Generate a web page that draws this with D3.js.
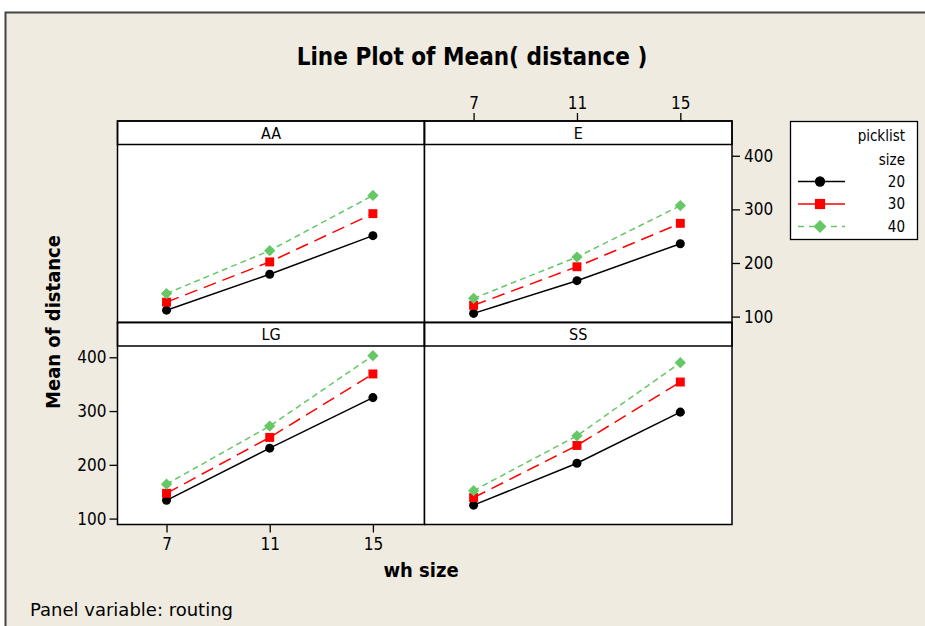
<!DOCTYPE html>
<html>
<head>
<meta charset="utf-8">
<script src="https://cdn.jsdelivr.net/npm/d3@7"></script>
<style>
  html, body { margin: 0; padding: 0; background: #ffffff; overflow: hidden; }
  svg { display: block; }
  text { font-family: "DejaVu Sans Condensed", "DejaVu Sans", sans-serif; fill: #000; }
</style>
</head>
<body>
<div id="chart"></div>
<script>
// categories
const routings = ['AA', 'E', 'LG', 'SS']
const whSizes = [7, 11, 15]
const picklistSizes = [20, 30, 40]
const yTicks = [100, 200, 300, 400]

// mean distance per routing, one value per wh size (7, 11, 15)
const AA_20 = [112, 179, 251]
const AA_30 = [127, 202, 292]
const AA_40 = [143, 223, 326]
const E_20 = [106, 167, 236]
const E_30 = [121, 193, 274]
const E_40 = [134, 211, 307]
const LG_20 = [134, 231, 325]
const LG_30 = [147, 251, 369]
const LG_40 = [164, 272, 403]
const SS_20 = [125, 203, 298]
const SS_30 = [139, 236, 354]
const SS_40 = [152, 254, 390]

const table = {
  AA: [AA_20, AA_30, AA_40],
  E: [E_20, E_30, E_40],
  LG: [LG_20, LG_30, LG_40],
  SS: [SS_20, SS_30, SS_40]
}

const W = 925, H = 626
const bg = '#efebe1'

// diamond = square turned 45 degrees
const styles = [
  { color: '#000000', dash: null, shape: d3.symbolCircle, size: 64, rot: 0 },
  { color: '#ff0000', dash: '13,7', shape: d3.symbolSquare, size: 80, rot: 0 },
  { color: '#66c766', dash: '6,4', shape: d3.symbolSquare, size: 64, rot: 45 }
]

const svg = d3.select('#chart').append('svg')
  .attr('width', W)
  .attr('height', H)

// beige page with dark frame line on top/left
svg.append('rect')
  .attr('x', 5).attr('y', 12)
  .attr('width', W - 5).attr('height', H - 12)
  .attr('fill', bg)
svg.append('path')
  .attr('d', `M5.5,${H} V12.5 H${W}`)
  .attr('fill', 'none')
  .attr('stroke', '#444')
  .attr('stroke-width', 2)

svg.append('text')
  .attr('x', 472).attr('y', 65)
  .attr('text-anchor', 'middle')
  .style('font-size', '24px')
  .style('font-weight', 'bold')
  .text('Line Plot of Mean( distance )')

// panel geometry
const colX = [117.5, 424.5, 732]
const rowY = [121, 322.5, 524.5]
const stripH = 23.5

const y0 = 89, y1 = 421

function panelBox(i) {
  const c = i % 2, r = Math.floor(i / 2)
  return {
    left: colX[c], right: colX[c + 1],
    top: rowY[r], bottom: rowY[r + 1],
    plotTop: rowY[r] + stripH
  }
}

routings.forEach((name, i) => {
  const b = panelBox(i)
  const x = d3.scaleLinear().domain([5.1, 17]).range([b.left, b.right])
  const y = d3.scaleLinear().domain([y0, y1]).range([b.bottom, b.plotTop])
  const g = svg.append('g')

  g.append('rect')
    .attr('x', b.left).attr('y', b.top)
    .attr('width', b.right - b.left).attr('height', b.bottom - b.top)
    .attr('fill', '#fff')

  // strip
  g.append('rect')
    .attr('x', b.left).attr('y', b.top)
    .attr('width', b.right - b.left).attr('height', stripH)
    .attr('fill', '#fff')
    .attr('stroke', '#000')
    .attr('stroke-width', 1.5)
  g.append('text')
    .attr('x', (b.left + b.right) / 2)
    .attr('y', b.top + stripH / 2)
    .attr('dy', '0.36em')
    .attr('text-anchor', 'middle')
    .style('font-size', '16px')
    .text(name)

  const line = d3.line()
    .x((d, k) => x(whSizes[k]))
    .y(d => y(d))

  table[name].forEach((vals, s) => {
    const st = styles[s]
    g.append('path')
      .datum(vals)
      .attr('d', line)
      .attr('fill', 'none')
      .attr('stroke', st.color)
      .attr('stroke-width', 1.5)
      .attr('stroke-dasharray', st.dash)
  })
  table[name].forEach((vals, s) => {
    const st = styles[s]
    g.selectAll(null)
      .data(vals)
      .join('path')
      .attr('transform', (d, k) => `translate(${x(whSizes[k])},${y(d)}) rotate(${st.rot})`)
      .attr('d', d3.symbol(st.shape, st.size))
      .attr('fill', st.color)
  })

  g.append('rect')
    .attr('x', b.left).attr('y', b.top)
    .attr('width', b.right - b.left).attr('height', b.bottom - b.top)
    .attr('fill', 'none')
    .attr('stroke', '#000')
    .attr('stroke-width', 1.5)

  const styleAxis = ax => {
    ax.select('.domain').remove()
    ax.selectAll('line').attr('stroke', '#000').attr('stroke-width', 1.3)
    ax.selectAll('text').style('font-size', '17px').attr('fill', '#000')
  }

  if (name === 'LG') {
    svg.append('g')
      .attr('transform', `translate(${b.left},0)`)
      .call(d3.axisLeft(y).tickValues(yTicks).tickSize(8).tickPadding(3))
      .call(styleAxis)
    svg.append('g')
      .attr('transform', `translate(0,${b.bottom})`)
      .call(d3.axisBottom(x).tickValues(whSizes).tickSize(8).tickPadding(5))
      .call(styleAxis)
  }
  if (name === 'E') {
    svg.append('g')
      .attr('transform', `translate(${b.right},0)`)
      .call(d3.axisRight(y).tickValues(yTicks).tickSize(8).tickPadding(4))
      .call(styleAxis)
    svg.append('g')
      .attr('transform', `translate(0,${b.top})`)
      .call(d3.axisTop(x).tickValues(whSizes).tickSize(8).tickPadding(4))
      .call(styleAxis)
  }
})

// axis titles
svg.append('text')
  .attr('transform', 'translate(60,322) rotate(-90)')
  .attr('text-anchor', 'middle')
  .style('font-size', '20px')
  .style('font-weight', 'bold')
  .text('Mean of distance')

svg.append('text')
  .attr('x', 421).attr('y', 577)
  .attr('text-anchor', 'middle')
  .style('font-size', '20px')
  .style('font-weight', 'bold')
  .text('wh size')

svg.append('text')
  .attr('x', 30).attr('y', 616)
  .style('font-family', '"DejaVu Sans", sans-serif')
  .style('font-size', '18px')
  .text('Panel variable: routing')

// legend
const lg = svg.append('g')
lg.append('rect')
  .attr('x', 790.5).attr('y', 121.5)
  .attr('width', 127).attr('height', 118)
  .attr('fill', '#fff')
  .attr('stroke', '#000')
  .attr('stroke-width', 1.3)
lg.append('text')
  .attr('x', 905).attr('y', 141)
  .attr('text-anchor', 'end')
  .style('font-size', '15px')
  .text('picklist')
lg.append('text')
  .attr('x', 905).attr('y', 165)
  .attr('text-anchor', 'end')
  .style('font-size', '15px')
  .text('size')

picklistSizes.forEach((p, s) => {
  const st = styles[s]
  const cy = 181.5 + s * 22.5
  lg.append('line')
    .attr('x1', 798).attr('x2', 845)
    .attr('y1', cy).attr('y2', cy)
    .attr('stroke', st.color)
    .attr('stroke-width', 1.6)
    .attr('stroke-dasharray', s === 2 ? '6,5' : null)
  lg.append('path')
    .attr('transform', `translate(820,${cy}) rotate(${st.rot})`)
    .attr('d', d3.symbol(st.shape, st.size * 1.3))
    .attr('fill', st.color)
  lg.append('text')
    .attr('x', 905).attr('y', cy)
    .attr('dy', '0.36em')
    .attr('text-anchor', 'end')
    .style('font-size', '15px')
    .text(p)
})
</script>
</body>
</html>
